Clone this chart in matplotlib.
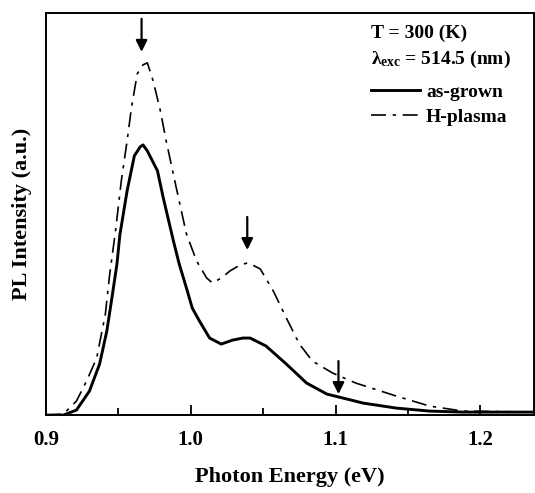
import numpy as np
import matplotlib
matplotlib.use('Agg')
import matplotlib.pyplot as plt

# photon energy (eV) and PL intensity (a.u.)
e_grown = [0.900, 0.912, 0.921, 0.930, 0.937, 0.942, 0.9455, 0.949, 0.951, 0.956,
           0.961, 0.965, 0.967, 0.970, 0.977, 0.981, 0.988, 0.992, 0.997, 1.001,
           1.006, 1.013, 1.021, 1.029, 1.036, 1.041, 1.052, 1.066, 1.080, 1.094,
           1.108, 1.119, 1.142, 1.165, 1.188, 1.237]
i_grown = [0, 0, 5, 24, 51, 84, 117, 151, 180, 224,
           259, 268, 270, 264, 244, 217, 174, 151, 127, 107,
           94, 77, 71, 75, 77, 77, 69, 51, 32, 21,
           16, 12, 7, 4, 3, 3]

e_plasma = [0.900, 0.912, 0.921, 0.928, 0.935, 0.941, 0.944, 0.948, 0.952, 0.956,
            0.959, 0.963, 0.967, 0.970, 0.974, 0.979, 0.983, 0.990, 0.997, 1.004,
            1.011, 1.015, 1.021, 1.027, 1.034, 1.039, 1.044, 1.048, 1.057, 1.066,
            1.075, 1.084, 1.098, 1.114, 1.142, 1.165, 1.188, 1.237]
i_plasma = [0, 1, 14, 34, 57, 101, 141, 184, 234, 274,
            307, 341, 350, 352, 334, 304, 274, 227, 181, 154,
            137, 132, 137, 144, 150, 152, 149, 146, 124, 97,
            71, 54, 42, 32, 19, 9, 4, 3]

# peak markers
arrow_e = [0.966, 1.039, 1.102]
arrow_from = [396, 198, 54]
arrow_to = [363, 165, 21]

plt.rcParams['font.family'] = 'Liberation Serif'
plt.rcParams['font.weight'] = 'bold'
plt.rcParams['mathtext.fontset'] = 'custom'
plt.rcParams['mathtext.rm'] = 'Liberation Serif:bold'
plt.rcParams['mathtext.it'] = 'Liberation Serif:bold'
plt.rcParams['mathtext.bf'] = 'Liberation Serif:bold'

fig = plt.figure(figsize=(5.35, 4.93), dpi=100)
ax = fig.add_axes([0.086, 0.158, 0.912, 0.816])

ax.plot(e_grown, i_grown, color='k', lw=2.1, label='as-grown')
ax.plot(e_plasma, i_plasma, color='k', lw=1.2, dashes=(9, 4, 2, 4), label='H-plasma')

for xa, y0, y1 in zip(arrow_e, arrow_from, arrow_to):
    ax.annotate('', xy=(xa, y1), xytext=(xa, y0),
                arrowprops=dict(arrowstyle='-|>', color='k', lw=1.6,
                                mutation_scale=17, shrinkA=0, shrinkB=0))

ax.set_xlim(0.9, 1.237)
ax.set_ylim(0, 402)
ax.set_xticks([0.9, 1.0, 1.1, 1.2])
ax.set_xticks([0.95, 1.05, 1.15], minor=True)
ax.set_xticklabels(['0.9', '1.0', '1.1', '1.2'])
ax.set_yticks([])
ax.tick_params(axis='x', which='major', direction='in', length=7, width=1.3,
               labelsize=15, pad=11)
ax.tick_params(axis='x', which='minor', direction='in', length=5, width=1.3)
for s in ax.spines.values():
    s.set_linewidth(1.4)

ax.set_xlabel('Photon Energy (eV)', fontsize=16, fontweight='bold', labelpad=12)
ax.set_ylabel('PL Intensity (a.u.)', fontsize=16, fontweight='bold', labelpad=10)

ax.text(0.667, 0.950, 'T = 300 (K)', transform=ax.transAxes, fontsize=14,
        fontweight='bold', va='center', ha='left')
ax.text(0.667, 0.883, r'$\lambda_{\rm exc}$ = 514.5 (nm)', transform=ax.transAxes,
        fontsize=14, fontweight='bold', va='center', ha='left')

ax.legend(loc='upper left', bbox_to_anchor=(0.667, 0.825), frameon=False,
          fontsize=14, handlelength=2.5, handletextpad=0.3, labelspacing=0.4,
          borderaxespad=0, borderpad=0)

fig.savefig('out.png', dpi=100)
